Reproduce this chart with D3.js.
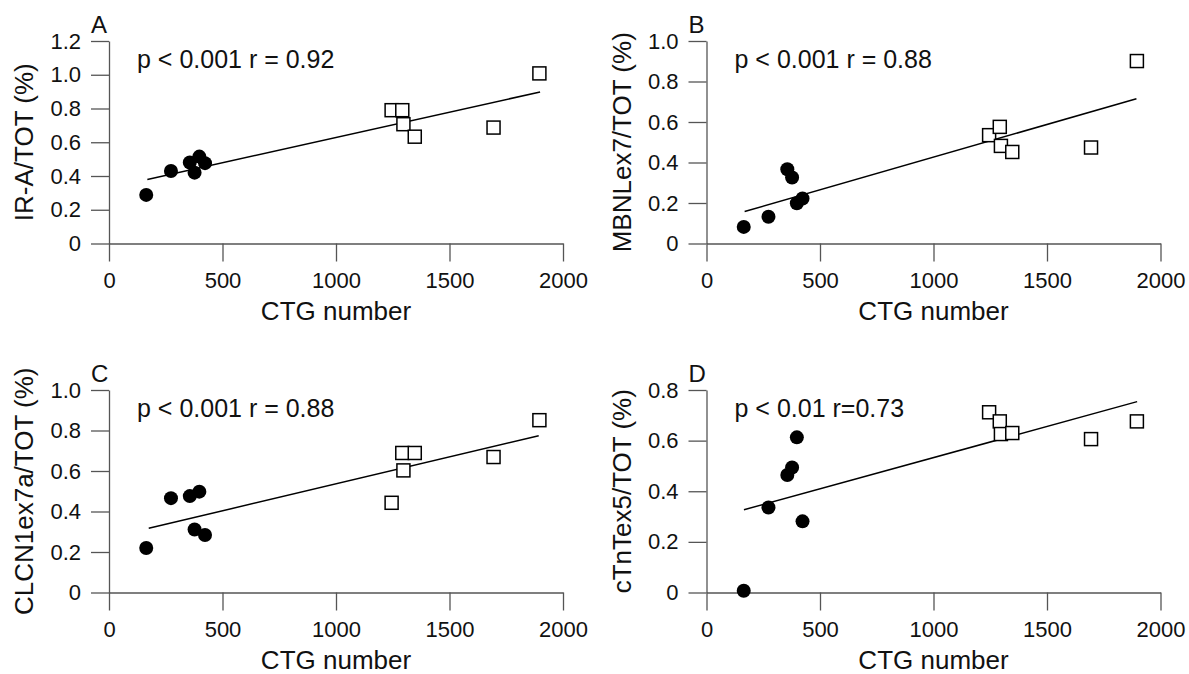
<!DOCTYPE html>
<html>
<head>
<meta charset="utf-8">
<script src="https://cdn.jsdelivr.net/npm/d3@7"></script>
<style>
  body { margin: 0; background: #fff; }
  text { font-family: "Liberation Sans", Arial, Helvetica, sans-serif; fill: #111; }
</style>
</head>
<body>
<script>
// CTG repeat numbers (same patients in every panel)
const ctgMild = [164, 273, 356, 377, 398, 423];      // filled circles
const ctgSevere = [1245, 1292, 1297, 1347, 1694, 1896]; // open squares

// A: IR-A/TOT
const irMild = [0.288, 0.43, 0.48, 0.42, 0.515, 0.476];
const irSevere = [0.79, 0.79, 0.707, 0.633, 0.687, 1.008];
const irFit = [[169, 0.379], [1899, 0.898]];

// B: MBNLex7/TOT
const mbnlMild = [0.082, 0.132, 0.367, 0.326, 0.199, 0.222];
const mbnlSevere = [0.535, 0.576, 0.482, 0.452, 0.474, 0.901];
const mbnlFit = [[168, 0.158], [1894, 0.715]];

// C: CLCN1ex7a/TOT
const clcnMild = [0.22, 0.466, 0.476, 0.311, 0.498, 0.284];
const clcnSevere = [0.443, 0.689, 0.603, 0.689, 0.669, 0.851];
const clcnFit = [[175, 0.317], [1893, 0.774]];

// D: cTnTex5/TOT
const ctntMild = [0.007, 0.336, 0.464, 0.494, 0.613, 0.281];
const ctntSevere = [0.712, 0.676, 0.626, 0.63, 0.606, 0.676];
const ctntFit = [[165, 0.327], [1897, 0.754]];

// tick values
const xTicks = [0, 500, 1000, 1500, 2000];
const yTicks12 = [0, 0.2, 0.4, 0.6, 0.8, 1.0, 1.2];
const yTicks10 = [0, 0.2, 0.4, 0.6, 0.8, 1.0];
const yTicks08 = [0, 0.2, 0.4, 0.6, 0.8];

const panels = [
    { letter: 'A', ylabel: 'IR-A/TOT (%)', stat: 'p < 0.001 r = 0.92', yTicks: yTicks12, mild: irMild, severe: irSevere, fit: irFit },
    { letter: 'B', ylabel: 'MBNLex7/TOT (%)', stat: 'p < 0.001 r = 0.88', yTicks: yTicks10, mild: mbnlMild, severe: mbnlSevere, fit: mbnlFit },
    { letter: 'C', ylabel: 'CLCN1ex7a/TOT (%)', stat: 'p < 0.001 r = 0.88', yTicks: yTicks10, mild: clcnMild, severe: clcnSevere, fit: clcnFit },
    { letter: 'D', ylabel: 'cTnTex5/TOT (%)', stat: 'p < 0.01 r=0.73', yTicks: yTicks08, mild: ctntMild, severe: ctntSevere, fit: ctntFit }
];

// layout
const svg_width = 1189;
const svg_height = 674;
const cols = [109, 706.5];
const rows = [41, 390];
const plot_width = 454;
const plot_height = 202.5;
const tickLen = 18;

const svg = d3.select('body').append('svg')
    .attr('width', svg_width).attr('height', svg_height);

function fmtY(d) {
    return d === 0 ? '0' : d3.format('.1f')(d);
}

function drawPanel(p, i) {
    const g = svg.append('g')
        .attr('transform', `translate(${cols[i % 2]},${rows[Math.floor(i / 2)]})`);

    const xScale = d3.scaleLinear().domain([0, 2000]).range([0, plot_width]);
    const yScale = d3.scaleLinear().domain([0, d3.max(p.yTicks)]).range([plot_height, 0]);

    // axes (outer ticks off; the 0 ticks extend the lines past the corner)
    const xAxis = d3.axisBottom(xScale).tickValues(xTicks).tickFormat(d3.format('d'))
        .tickSize(tickLen).tickSizeOuter(0).tickPadding(11);
    const yAxis = d3.axisLeft(yScale).tickValues(p.yTicks).tickFormat(fmtY)
        .tickSize(tickLen).tickSizeOuter(0).tickPadding(10);

    g.append('g').attr('class', 'x axis')
        .attr('transform', `translate(0,${plot_height})`)
        .call(xAxis);
    g.append('g').attr('class', 'y axis')
        .call(yAxis);

    g.selectAll('.axis path, .axis line')
        .style('stroke', '#555').style('stroke-width', 1.3);
    g.selectAll('.axis text')
        .style('font-size', '22px').style('fill', '#111');
    g.selectAll('.axis').attr('font-family', null).attr('font-size', null);

    // regression line
    const lineGen = d3.line().x(d => xScale(d[0])).y(d => yScale(d[1]));
    g.append('path')
        .attr('d', lineGen(p.fit))
        .style('fill', 'none').style('stroke', '#000').style('stroke-width', 1.5);

    // mild group: filled circles
    g.selectAll('.dot')
        .data(ctgMild.map((c, j) => [c, p.mild[j]])).enter()
        .append('circle')
        .attr('class', 'dot')
        .attr('cx', d => xScale(d[0]))
        .attr('cy', d => yScale(d[1]))
        .attr('r', 7)
        .style('fill', '#000');

    // severe group: open squares
    const sq = 13;
    g.selectAll('.sq')
        .data(ctgSevere.map((c, j) => [c, p.severe[j]])).enter()
        .append('rect')
        .attr('class', 'sq')
        .attr('x', d => xScale(d[0]) - sq / 2)
        .attr('y', d => yScale(d[1]) - sq / 2)
        .attr('width', sq).attr('height', sq)
        .style('fill', '#fff').style('stroke', '#000').style('stroke-width', 1.5);

    // labels
    g.append('text')
        .attr('x', -18).attr('y', -8)
        .style('font-size', '24px')
        .text(p.letter);

    g.append('text')
        .attr('x', 28).attr('y', 27)
        .style('font-size', '25px')
        .text(p.stat);

    g.append('text')
        .attr('x', plot_width / 2).attr('y', plot_height + 76)
        .attr('text-anchor', 'middle')
        .style('font-size', '26px')
        .text('CTG number');

    g.append('text')
        .attr('transform', `translate(-76,${plot_height / 2}) rotate(-90)`)
        .attr('text-anchor', 'middle')
        .style('font-size', '26px')
        .text(p.ylabel);
}

panels.forEach(drawPanel);
</script>
</body>
</html>
